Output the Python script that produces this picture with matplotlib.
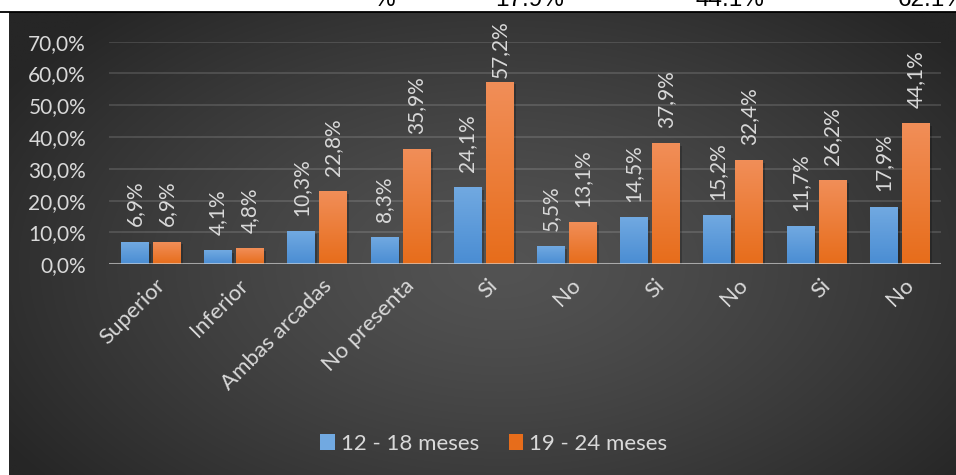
import numpy as np
import matplotlib
matplotlib.use("Agg")
import matplotlib.pyplot as plt
from matplotlib.patches import Rectangle
from matplotlib.lines import Line2D
from matplotlib.transforms import ScaledTranslation
import matplotlib.patheffects as pe

# datos
categorias = ["Superior", "Inferior", "Ambas arcadas", "No presenta",
              "Si", "No", "Si", "No", "Si", "No"]
meses_12_18 = [6.9, 4.1, 10.3, 8.3, 24.1, 5.5, 14.5, 15.2, 11.7, 17.9]
meses_19_24 = [6.9, 4.8, 22.8, 35.9, 57.2, 13.1, 37.9, 32.4, 26.2, 44.1]
series = ["12 - 18 meses", "19 - 24 meses"]
yticks = [0, 10, 20, 30, 40, 50, 60, 70]
# restos de la tabla que queda encima del grafico
cabecera = ["%", "17.9%", "44.1%", "62.1%"]
cabecera_x = [373, 495, 696, 898]

W, H = 956, 475
FONT = "Lato"
TXT = "#d9d9d9"
AZUL = ("#71a9e1", "#4a8dd3")
NARANJA = ("#f18e58", "#e76d1b")

fig = plt.figure(figsize=(W / 100, H / 100), dpi=100, facecolor="white")

# fondo con degradado radial
bg = fig.add_axes([9 / W, 0, (W - 9) / W, (H - 12) / H])
bg.set_axis_off()
gx, gy = np.meshgrid(np.linspace(0, 1, 400), np.linspace(0, 1, 200))
r = np.sqrt(((gx - 0.52) / 0.62) ** 2 + ((gy - 0.55) / 0.75) ** 2)
r = np.clip(r, 0, 1)
v = (0x53 - (0x53 - 0x26) * r ** 1.3) / 255
bg.imshow(np.dstack([v, v, v]), aspect="auto", extent=[0, 1, 0, 1],
          interpolation="bilinear")
bg.set_xlim(0, 1); bg.set_ylim(0, 1)

fig.add_artist(Line2D([0, 1], [1 - 11.5 / H] * 2, color="black", lw=1.3,
                      transform=fig.transFigure))
for t, x in zip(cabecera, cabecera_x):
    fig.text(x / W, 1 - 6.5 / H, t, fontsize=17.5, family="Liberation Sans",
             color="black", ha="left", va="baseline")

ax = fig.add_axes([109 / W, 1 - 264.3 / H, 832 / W, (264.3 - 41.7) / H])
ax.set_facecolor("none")
for s in ax.spines.values():
    s.set_visible(False)

ax.set_yticks(yticks)
ax.set_yticklabels([f"{t:.1f}%".replace(".", ",") for t in yticks])
ax.yaxis.grid(True, color="white", alpha=0.14, lw=1.3)
ax.set_axisbelow(True)
ax.tick_params(axis="y", length=0, pad=16.5, labelsize=15, labelcolor=TXT)
for lab in ax.get_yticklabels():
    lab.set_family(FONT)

x = np.arange(len(categorias))
ancho = 0.325
desp = 0.1925


def barras(xs, vals, cols):
    bars = ax.bar(xs, vals, ancho, color=cols[1], zorder=2,
                  path_effects=[pe.SimplePatchShadow(offset=(2, -1.5), alpha=0.22,
                                                     shadow_rgbFace="black"),
                                pe.Normal()])
    grad = np.linspace(0, 1, 64)[:, None]
    c0 = np.array(matplotlib.colors.to_rgb(cols[0]))
    c1 = np.array(matplotlib.colors.to_rgb(cols[1]))
    img = c0[None, None, :] * (1 - grad[..., None]) + c1[None, None, :] * grad[..., None]
    for b in bars:
        ax.imshow(img, aspect="auto", zorder=2.1, interpolation="bilinear",
                  extent=[b.get_x(), b.get_x() + b.get_width(), 0, b.get_height()])
    return bars


barras(x - desp, meses_12_18, AZUL)
barras(x + desp, meses_19_24, NARANJA)
ax.set_xlim(-0.5, len(categorias) - 0.5)
ax.set_ylim(0, 70)

# etiquetas de valor, con tope para que no se salgan del area
pad = 5.0
tope = 58.6
for xs, vals in ((x - desp, meses_12_18), (x + desp, meses_19_24)):
    for xi, vi in zip(xs, vals):
        ax.text(xi, min(vi + pad, tope), f"{vi:.1f}%".replace(".", ","),
                rotation=90, ha="center", va="bottom", fontsize=15,
                family=FONT, color=TXT, clip_on=False, zorder=3)

ax.axhline(0, color="#d9d9d9", alpha=0.6, lw=2.2, zorder=4)

ax.set_xticks(x)
ax.set_xticklabels(categorias, rotation=45, ha="right", rotation_mode="anchor",
                   family=FONT, fontsize=16, color=TXT)
ax.tick_params(axis="x", length=0, pad=8)
# pequeno desplazamiento a la derecha de las categorias
mover = ScaledTranslation(3 / 72, 0, fig.dpi_scale_trans)
for lab in ax.get_xticklabels():
    lab.set_transform(lab.get_transform() + mover)

handles = [Rectangle((0, 0), 1, 1, facecolor=AZUL[0], edgecolor="none"),
           Rectangle((0, 0), 1, 1, facecolor=NARANJA[1], edgecolor="none")]
fig.legend(handles, series, loc="center", bbox_to_anchor=(494 / W, 1 - 444 / H),
           ncol=2, frameon=False, prop={"family": FONT, "size": 16},
           labelcolor=TXT, handlelength=0.64, handleheight=0.7,
           handletextpad=0.3, columnspacing=1.3)

fig.savefig("out.png", dpi=100, facecolor="white")
